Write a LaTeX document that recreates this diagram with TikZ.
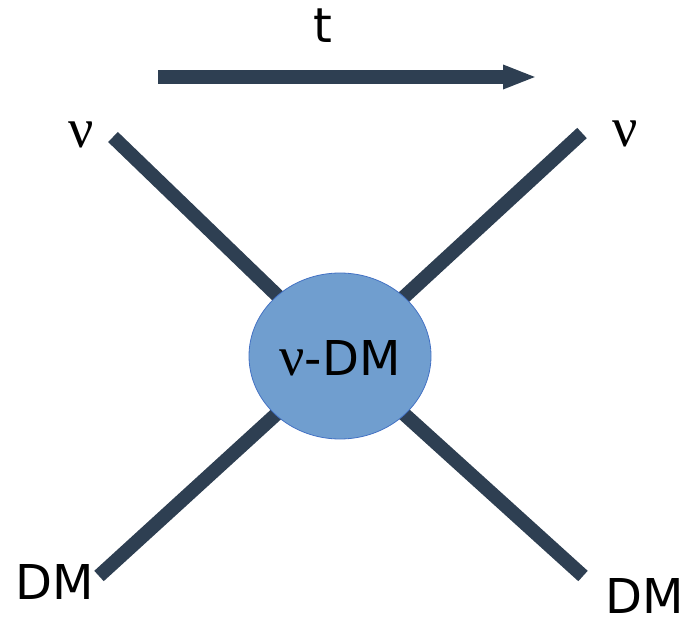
\documentclass[tikz,border=0pt]{standalone}
\usepackage{fontspec}
\setmainfont{DejaVu Sans}
\newfontfamily\nufont{Liberation Serif}
\usetikzlibrary{arrows.meta, backgrounds, shapes.geometric}
\definecolor{linedark}{RGB}{46,63,82}
\definecolor{blobfill}{RGB}{112,158,207}
\definecolor{blobedge}{RGB}{68,114,196}
\newcommand{\nusym}{{\nufont\fontsize{56}{56}\selectfont ν}}

\begin{document}
\begin{tikzpicture}[x=1pt,y=-1pt,
  leg/.style={line width=14pt,linedark},
  lbl/.style={inner sep=0pt,font=\fontsize{48}{48}\selectfont}]
  \useasboundingbox (0,0) rectangle (695,617);

  % Interaction blob
  \node[ellipse,draw=blobedge,line width=0.8pt,fill=blobfill,
        minimum width=182pt,minimum height=166pt,inner sep=0pt]
        (vdm) at (340,356) {};
  \node[lbl] (vdmtext) at (340,358) {\nusym-DM};

  % Leg end points
  \coordinate (nuin) at (113,137);
  \coordinate (nuout) at (582,133);
  \coordinate (dmin) at (99,576);
  \coordinate (dmout) at (583,576);

  % Legs behind the blob
  \begin{pgfonlayer}{background}
    \draw[leg] (nuin) -- (vdm.center);
    \draw[leg] (nuout) -- (vdm.center);
    \draw[leg] (dmin) -- (vdm.center);
    \draw[leg] (dmout) -- (vdm.center);
  \end{pgfonlayer}

  % Time arrow
  \coordinate (tstart) at (158,77);
  \coordinate (tend) at (537,77);
  \draw[line width=14pt,linedark,-{Triangle[length=34pt,width=22pt]}] (tstart) -- (tend);
  \node[lbl] (tlabel) at (323,26) {t};

  % Labels
  \node[lbl] (nuinlbl) at (81,135) {\nusym};
  \node[lbl] (nuoutlbl) at (625,134) {\nusym};
  \node[lbl] (dminlbl) at (55,582) {DM};
  \node[lbl] (dmoutlbl) at (645,596) {DM};
\end{tikzpicture}
\end{document}
